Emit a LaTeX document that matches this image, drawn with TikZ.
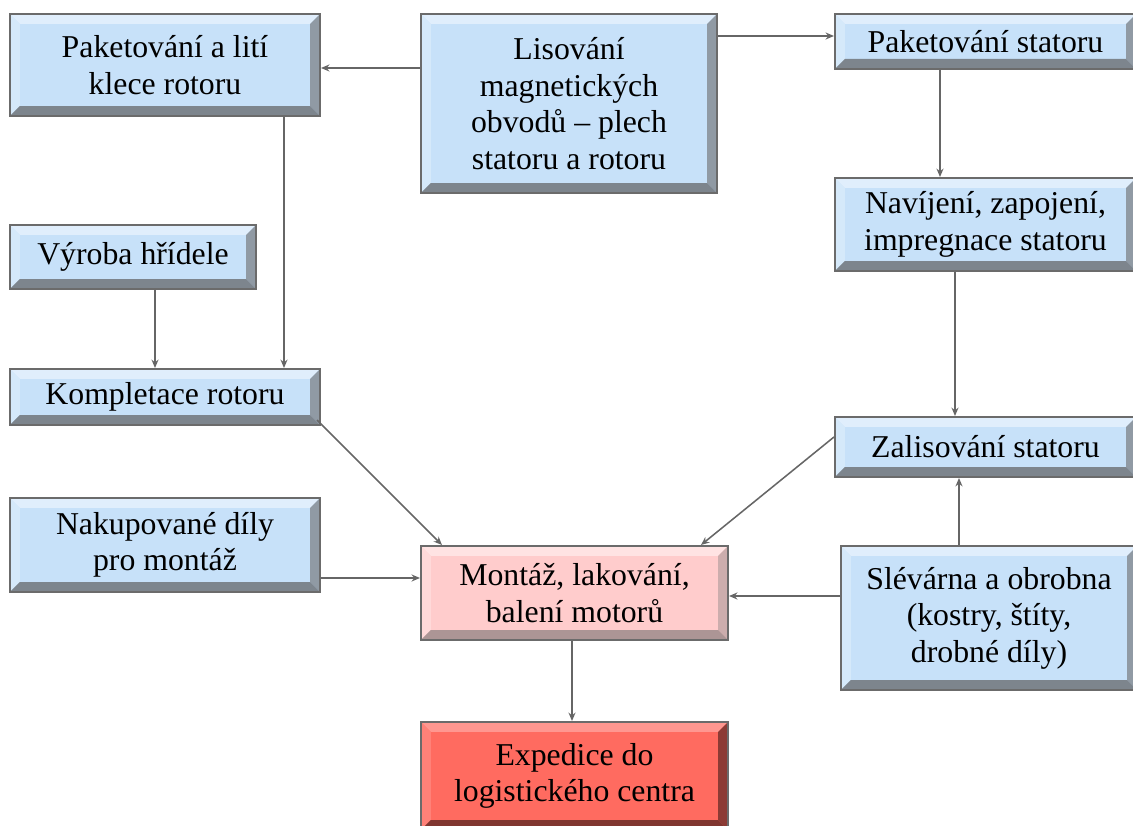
\documentclass[tikz,border=0pt]{standalone}
\usepackage{fontspec}
\setmainfont{Liberation Serif}
\newfontfamily\boxfont{Liberation Serif}
\usetikzlibrary{arrows.meta}

\definecolor{boxline}{HTML}{6B6B6B}
\definecolor{linec}{HTML}{666666}
\definecolor{bluefill}{HTML}{C7E1F9}
\definecolor{pinkfill}{HTML}{FFCCCC}
\definecolor{redfill}{HTML}{FF6B60}

\begin{document}
\begin{tikzpicture}[x=0.025cm,y=-0.025cm,
  bevel/.style n args={4}{path picture={
    \path (path picture bounding box.north west) coordinate (pnw)
          (path picture bounding box.north east) coordinate (pne)
          (path picture bounding box.south east) coordinate (pse)
          (path picture bounding box.south west) coordinate (psw)
          ([shift={(.25cm,-.25cm)}]pnw) coordinate (qnw)
          ([shift={(-.25cm,-.25cm)}]pne) coordinate (qne)
          ([shift={(-.25cm,.25cm)}]pse) coordinate (qse)
          ([shift={(.25cm,.25cm)}]psw) coordinate (qsw);
    \fill[#1] (pnw) -- (pne) -- (qne) -- (qnw) -- cycle;
    \fill[#4] (psw) -- (pnw) -- (qnw) -- (qsw) -- cycle;
    \fill[#2] (pne) -- (pse) -- (qse) -- (qne) -- cycle;
    \fill[#3] (pse) -- (psw) -- (qsw) -- (qse) -- cycle;}},
  box/.style={draw=boxline, line width=1.4pt, align=center, inner sep=2pt,
    font=\boxfont\fontsize{22.6}{25.9}\selectfont},
  blue/.style={box, fill=bluefill, bevel={bluefill!55!white}{bluefill!45!gray!90!black}{bluefill!40!gray!80!black}{bluefill!75!white}},
  pink/.style={box, fill=pinkfill, bevel={pinkfill!55!white}{pinkfill!60!gray}{pinkfill!50!gray!90!black}{pinkfill!75!white}},
  red/.style={box, fill=redfill, bevel={redfill!70!white}{redfill!55!black}{redfill!50!black}{redfill!85!white}},
  arr/.style={draw=linec, line width=1.1pt, -{Stealth[length=6pt,width=5pt]}}]

\useasboundingbox (0,0) rectangle (1133,826);

\node[blue, minimum width=7.75cm, minimum height=2.55cm] (1) at (165,65) {Paketování a lití\\klece rotoru};
\node[blue, minimum width=7.4cm, minimum height=4.475cm] (2) at (569,103.5) {Lisování\\magnetických\\obvodů – plech\\statoru a rotoru};
\node[blue, minimum width=7.525cm, minimum height=1.375cm] (3) at (985.5,41.5) {Paketování statoru};
\node[blue, minimum width=7.525cm, minimum height=2.325cm] (4) at (985.5,224.5) {Navíjení, zapojení,\\impregnace statoru};
\node[blue, minimum width=6.15cm, minimum height=1.6cm] (5) at (133,257) {Výroba hřídele};
\node[blue, minimum width=7.75cm, minimum height=1.4cm] (6) at (165,397) {Kompletace rotoru};
\node[blue, minimum width=7.525cm, minimum height=1.5cm] (7) at (985.5,447) {Zalisování statoru};
\node[blue, minimum width=7.75cm, minimum height=2.35cm] (8) at (165,545) {Nakupované díly\\pro montáž};
\node[pink, minimum width=7.675cm, minimum height=2.35cm] (9) at (574.5,593) {Montáž, lakování,\\balení motorů};
\node[blue, minimum width=7.4cm, minimum height=3.6cm] (10) at (989,618) {Slévárna a obrobna\\(kostry, štíty,\\drobné díly)};
\node[red, minimum width=7.675cm, minimum height=2.7cm] (11) at (574.5,776) {Expedice do\\logistického centra};

\draw[arr] (2.west |- 0,68) -- (1.east |- 0,68);
\draw[arr] (2.east |- 0,36) -- (3.west |- 0,36);
\draw[arr] (284,0 |- 1.south) -- (284,0 |- 6.north);
\draw[arr] (155,0 |- 5.south) -- (155,0 |- 6.north);
\draw[arr] (940,0 |- 3.south) -- (940,0 |- 4.north);
\draw[arr] (955,0 |- 4.south) -- (955,0 |- 7.north);
\draw[arr] (959,0 |- 10.north) -- (959,0 |- 7.south);
\draw[arr] ([xshift=-0.1cm,yshift=0.15cm]6.south east) -- (442,0 |- 9.north);
\draw[arr] (7.west |- 0,437) -- (701,0 |- 9.north);
\draw[arr] (8.east |- 0,578) -- (9.west |- 0,578);
\draw[arr] (10.west |- 0,596) -- (9.east |- 0,596);
\draw[arr] (572,0 |- 9.south) -- (572,0 |- 11.north);
\end{tikzpicture}
\end{document}
